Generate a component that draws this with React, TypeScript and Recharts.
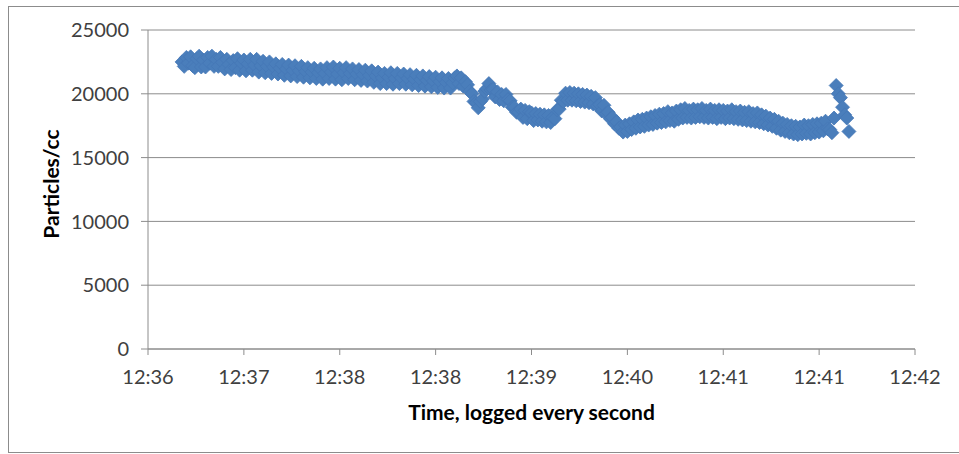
import { ScatterChart, Scatter, XAxis, YAxis, CartesianGrid, Label } from "recharts";

// readings logged every second, grouped by minute (12:36:16 .. 12:41:29)
const MIN_1236 = [
  22500, 22150, 22850, 22400, 22900, 22200, 22050, 22750, 22950, 22100,
  22650, 22100, 22850, 22400, 22950, 22150, 22700, 22150, 22850, 22450,
  21950, 22700, 22300, 21900, 22600, 22050, 22750, 21850, 22400, 22650,
  21800, 22350, 22700, 21850, 22250, 22700, 21700, 22200, 22550, 21650,
  22150, 22500, 21600, 22100,
];
const MIN_1237 = [
  22350, 21550, 22000, 22300, 21450, 21950, 22250, 21400, 21850, 22200,
  21350, 21800, 22150, 21300, 21750, 22050, 21250, 21700, 22000, 21200,
  21650, 21950, 21150, 21600, 22050, 21200, 21700, 22100, 21150, 21550,
  22000, 21100, 21650, 22050, 21200, 21600, 21950, 21100, 21550, 21900,
  21050, 21500, 21850, 21000, 21450, 21800, 20900, 21400, 21700, 20800,
  21250, 21600, 20800, 21300, 21650, 20750, 21200, 21600, 20800, 21250,
];
const MIN_1238 = [
  21550, 20750, 21200, 21500, 20700, 21150, 21450, 20650, 21100, 21400,
  20600, 21050, 21350, 20550, 21000, 21300, 20500, 20950, 21250, 20450,
  20900, 21200, 20450, 20850, 21250, 21400, 20800, 21250, 20600, 20950,
  20700, 20200, 20000, 19400, 19300, 18900, 19400, 19600, 20200, 20400,
  20800, 20300, 20350, 19750, 20150, 19550, 19950, 19450, 19950, 19550,
  19450, 18950, 18950, 18550, 18550, 18800, 18150, 18700, 18050, 18600,
];
const MIN_1239 = [
  18500, 17900, 18450, 17950, 18400, 17850, 18350, 17800, 18300, 17750,
  18150, 18050, 18750, 18800, 19500, 19400, 20050, 19500, 20100, 19500,
  20050, 19450, 20000, 19400, 19950, 19350, 19900, 19300, 19800, 19200,
  19700, 19050, 19150, 18650, 19100, 18450, 18550, 18050, 18150, 17650,
  17800, 17300, 17400, 17000, 17550, 17050, 17650, 17200, 17800, 17300,
  17950, 17400, 18000, 17450, 18100, 17550, 18200, 17600, 18300, 17700,
];
const MIN_1240 = [
  18400, 17750, 18450, 17800, 18600, 17900, 18500, 17850, 18650, 18000,
  18750, 18100, 18850, 18150, 18700, 18100, 18800, 18150, 18750, 18200,
  18850, 18150, 18700, 18100, 18800, 18150, 18700, 18050, 18750, 18150,
  18700, 18050, 18650, 18100, 18750, 18050, 18600, 18000, 18650, 17950,
  18550, 17900, 18600, 17850, 18450, 17800, 18500, 17750, 18350, 17650,
  18250, 17550, 18100, 17450, 18000, 17300, 17850, 17150, 17700, 17050,
];
const MIN_1241 = [
  17600, 16950, 17500, 16850, 17450, 16800, 17400, 16850, 17550, 16900,
  17500, 16850, 17600, 16950, 17650, 17000, 17700, 17100, 17850, 17250,
  17200, 16950, 18100, 20650, 20000, 19700, 18950, 18350, 18100, 17050,
];

const MINUTES = [
  { minute: 36, firstSecond: 16, values: MIN_1236 },
  { minute: 37, firstSecond: 0, values: MIN_1237 },
  { minute: 38, firstSecond: 0, values: MIN_1238 },
  { minute: 39, firstSecond: 0, values: MIN_1239 },
  { minute: 40, firstSecond: 0, values: MIN_1240 },
  { minute: 41, firstSecond: 0, values: MIN_1241 },
];

// x axis: seconds after 12:36:00, Excel major unit of 45 s
const X_TICKS = [0, 45, 90, 135, 180, 225, 270, 315, 360];
const X_LABELS = ["12:36", "12:37", "12:38", "12:38", "12:39", "12:40", "12:41", "12:41", "12:42"];
const Y_TICKS = [0, 5000, 10000, 15000, 20000, 25000];

const data = MINUTES.flatMap(({ minute, firstSecond, values }) =>
  values.map((v, i) => ({ t: (minute - 36) * 60 + firstSecond + i, v }))
);

const FONT = "Lato, 'Open Sans', sans-serif";

const Diamond = (props: any) => {
  const { cx, cy } = props;
  const r = 7;
  return (
    <polygon
      points={`${cx},${cy - r} ${cx + r},${cy} ${cx},${cy + r} ${cx - r},${cy}`}
      fill="#4A7EBB"
      stroke="#4577B6"
      strokeWidth={0.8}
    />
  );
};

const YTitle = () => (
  <text
    transform="translate(50, 184) rotate(-90)"
    textAnchor="middle"
    dominantBaseline="central"
    fontFamily={FONT}
    fontWeight={700}
    fontSize={21}
    fill="#000"
  >
    Particles/cc
  </text>
);

export default function App() {
  return (
    <div style={{ position: "absolute", left: 0, top: 0, width: 959, height: 454, background: "#fff" }}>
      <div
        style={{
          position: "absolute",
          left: 8,
          top: 6,
          width: 960,
          height: 445,
          border: "1px solid #8c8c8c",
          borderRight: "none",
        }}
      />
      <div style={{ position: "absolute", left: 0, top: 0 }}>
        <ScatterChart width={959} height={454} margin={{ top: 30, right: 44, bottom: 75, left: 88 }}>
          <CartesianGrid vertical={false} stroke="#8c8c8c" strokeWidth={1} />
          <XAxis
            type="number"
            dataKey="t"
            domain={[0, 360]}
            ticks={X_TICKS}
            tickFormatter={(t: number) => X_LABELS[X_TICKS.indexOf(t)]}
            interval={0}
            height={30}
            stroke="#8c8c8c"
            tickSize={6}
            tickMargin={15}
            tick={{ fill: "#404040", fontSize: 20, fontFamily: FONT }}
          >
            <Label
              value="Time, logged every second"
              position="bottom"
              offset={26}
              style={{ fontFamily: FONT, fontWeight: 700, fontSize: 21, fill: "#000" }}
            />
          </XAxis>
          <YAxis
            type="number"
            dataKey="v"
            domain={[0, 25000]}
            ticks={Y_TICKS}
            interval={0}
            width={60}
            stroke="#8c8c8c"
            tickSize={7}
            tickMargin={12}
            tick={{ fill: "#404040", fontSize: 20, fontFamily: FONT }}
          >
            <Label content={<YTitle />} />
          </YAxis>
          <Scatter data={data} shape={<Diamond />} isAnimationActive={false} />
        </ScatterChart>
      </div>
    </div>
  );
}
